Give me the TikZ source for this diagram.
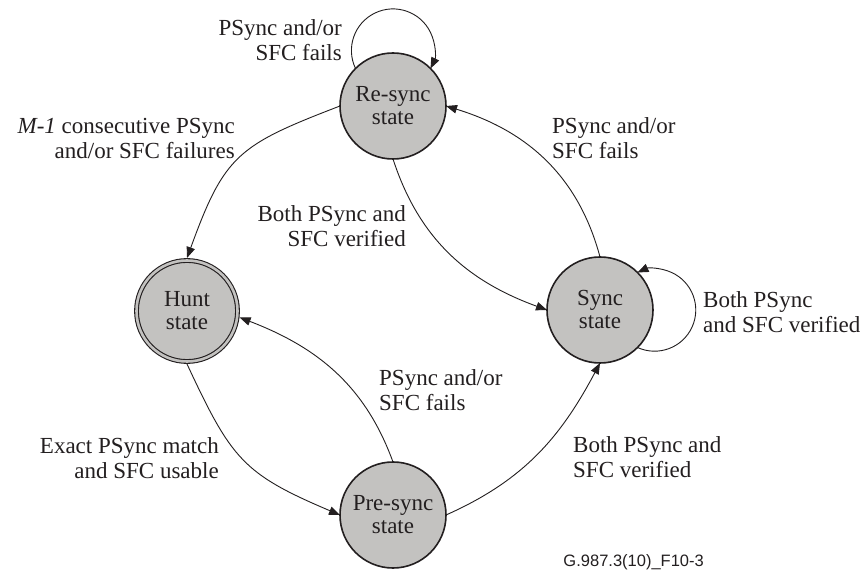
\documentclass[tikz,border=0pt]{standalone}
\usepackage{fontspec}
\setmainfont{Liberation Serif}
\newfontfamily\footfont{Liberation Sans}
\usetikzlibrary{arrows.meta}
\definecolor{ink}{RGB}{35,31,32}
\definecolor{statefill}{RGB}{195,194,192}
\begin{document}
\begin{tikzpicture}[x=1pt,y=1pt,
  state/.style={circle, draw=ink, fill=statefill, line width=1.6pt, minimum size=106pt, inner sep=0pt, outer sep=0pt,
    align=center, text=ink, font=\rmfamily\fontsize{23}{23}\selectfont},
  hunt/.style={double=statefill, double distance=2.6pt, line width=1.1pt, minimum size=101pt, outer sep=2.5pt},
  lbl/.style={inner sep=0pt, text=ink, font=\rmfamily\fontsize{23}{25}\selectfont},
  foot/.style={inner sep=0pt, text=ink, font=\footfont\fontsize{16.5}{18}\selectfont},
  conn/.style={draw=ink, line width=0.9pt, -{Triangle[length=11pt,width=8.5pt]}}]
\useasboundingbox[fill=white] (0,0) rectangle (866,570);

\node[state] (R) at (393,464) {Re-sync\\state};
\node[state, hunt] (H) at (187,259) {Hunt\\state};
\node[state] (S) at (600,260) {Sync\\state};
\node[state] (P) at (393,55) {Pre-sync\\state};

\node[lbl, align=right, anchor=north east] (l1) at (342,551) {PSync and/or\\SFC fails};
\node[lbl, align=right, anchor=north east] (l2) at (235,452) {\textit{M-1} consecutive PSync\\and/or SFC failures};
\node[lbl, align=right, anchor=north east] (l3) at (406,365) {Both PSync and\\SFC verified};
\node[lbl, align=left, anchor=north west] (l4) at (552,453) {PSync and/or\\SFC fails};
\node[lbl, align=left, anchor=north west] (l5) at (703,279) {Both PSync\\and SFC verified};
\node[lbl, align=right, anchor=north east] (l6) at (219,133) {Exact PSync match\\and SFC usable};
\node[lbl, align=left, anchor=north west] (l7) at (379,201) {PSync and/or\\SFC fails};
\node[lbl, align=left, anchor=north west] (l8) at (573,134) {Both PSync and\\SFC verified};
\node[foot, anchor=base east] (fig) at (704,4) {G.987.3(10)\_F10-3};

\draw[conn] (R.west) to[out=201, in=70, looseness=1.3] (H.north);
\draw[conn] (R.south) to[out=-72, in=160] (S.west);
\draw[conn] (S.north) to[out=105, in=-17] (R.east);
\draw[conn] (H.south) to[out=-65, in=157, looseness=1.25] (P.west);
\draw[conn] (P.north) to[out=110, in=-21] (H.-7);
\draw[conn] (P.east) to[out=24, in=-118] (S.south);
\draw[conn] (R.135) arc[start angle=205.66, end angle=-25.66, radius=41.6];
\draw[conn] (S.-45) arc[start angle=-114.5, end angle=114.5, radius=41.2];
\end{tikzpicture}
\end{document}
